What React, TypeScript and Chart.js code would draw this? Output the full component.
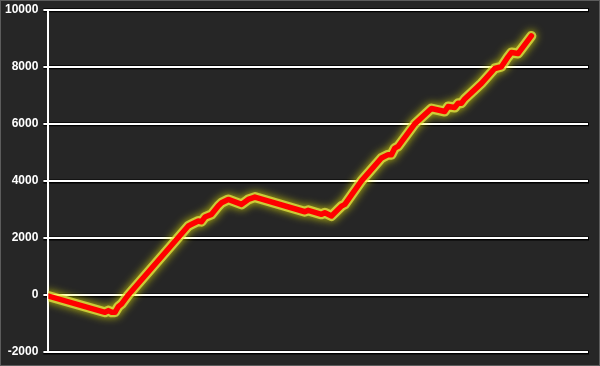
import React, { useEffect, useRef } from "react";
import { Chart, registerables } from "chart.js";

Chart.register(...registerables);

const tradeNo = [0, 17, 18, 19, 20, 21, 22, 24, 42, 43, 45, 46, 47, 49, 51, 52, 54, 58, 60, 62, 77, 78, 82, 83, 85, 87, 88, 89, 94, 100, 102, 103, 104, 105, 110, 115, 119, 120, 122, 123, 124, 125, 130, 134, 136, 138, 139, 141, 145];
const equity = [-40, -607, -548, -607, -607, -408, -314, 0, 2419, 2478, 2593, 2569, 2733, 2827, 3117, 3232, 3350, 3176, 3350, 3431, 2918, 2967, 2827, 2883, 2768, 3001, 3117, 3176, 4000, 4802, 4921, 4921, 5151, 5211, 6000, 6537, 6432, 6607, 6572, 6722, 6722, 6875, 7420, 7943, 8002, 8351, 8501, 8466, 9084];
const yTicks = [-2000, 0, 2000, 4000, 6000, 8000, 10000];
const xMax = 162;

const points = tradeNo.map((t, i) => ({ x: t, y: equity[i] }));

const bgPlugin = {
  id: "bgPlugin",
  beforeDraw(chart: any) {
    const { ctx, width, height, chartArea } = chart;
    ctx.save();
    ctx.fillStyle = "#262626";
    ctx.fillRect(0, 0, width, height);
    ctx.strokeStyle = "#5c5c5c";
    ctx.lineWidth = 1;
    ctx.strokeRect(0.5, 0.5, width - 1, height - 1);
    const ys = chart.scales.y;
    ctx.strokeStyle = "#000000";
    ctx.lineWidth = 4;
    yTicks.forEach((v) => {
      const py = ys.getPixelForValue(v);
      ctx.beginPath();
      ctx.moveTo(chartArea.left - 5, py + 0.5);
      ctx.lineTo(chartArea.right + 1, py + 0.5);
      ctx.stroke();
    });
    ctx.restore();
  },
};

const glowPlugin = {
  id: "glowPlugin",
  beforeDatasetDraw(chart: any, args: any) {
    const ctx = chart.ctx;
    ctx.save();
    if (args.index === 1) {
      ctx.shadowColor = "rgba(255,255,0,1)";
      ctx.shadowBlur = 8;
    }
  },
  afterDatasetDraw(chart: any) {
    chart.ctx.restore();
  },
};

export default function App() {
  const ref = useRef<HTMLCanvasElement>(null);
  useEffect(() => {
    document.body.style.margin = "0";
    const chart = new Chart(ref.current!, {
      type: "line",
      data: {
        datasets: [
          {
            data: points,
            borderColor: "#ff0000",
            borderWidth: 5.5,
            pointRadius: 0,
            borderJoinStyle: "round",
            borderCapStyle: "round",
            tension: 0,
          },
          {
            data: points,
            borderColor: "rgba(235,235,70,0.7)",
            borderWidth: 10,
            pointRadius: 0,
            borderJoinStyle: "round",
            borderCapStyle: "round",
            tension: 0,
          },
        ],
      },
      options: {
        animation: false,
        responsive: false,
        events: [],
        layout: { padding: { top: 9, right: 12, bottom: 14, left: 0 } },
        plugins: { legend: { display: false }, tooltip: { enabled: false } },
        scales: {
          x: { type: "linear", min: 0, max: xMax, display: false },
          y: {
            min: -2000,
            max: 10000,
            afterBuildTicks: (axis: any) => {
              axis.ticks = yTicks.map((v) => ({ value: v }));
            },
            ticks: {
              color: "#ffffff",
              padding: 5,
              font: { family: "Liberation Sans", size: 12, weight: "bold", lineHeight: 0.8 },
              callback: (v: any) => String(v),
            },
            grid: { color: "#ffffff", lineWidth: 2, tickLength: 5 },
            border: { color: "#ffffff", width: 2 },
          },
        },
      },
      plugins: [bgPlugin, glowPlugin],
    });
    return () => chart.destroy();
  }, []);
  return <canvas ref={ref} width={600} height={366} style={{ display: "block" }} />;
}
